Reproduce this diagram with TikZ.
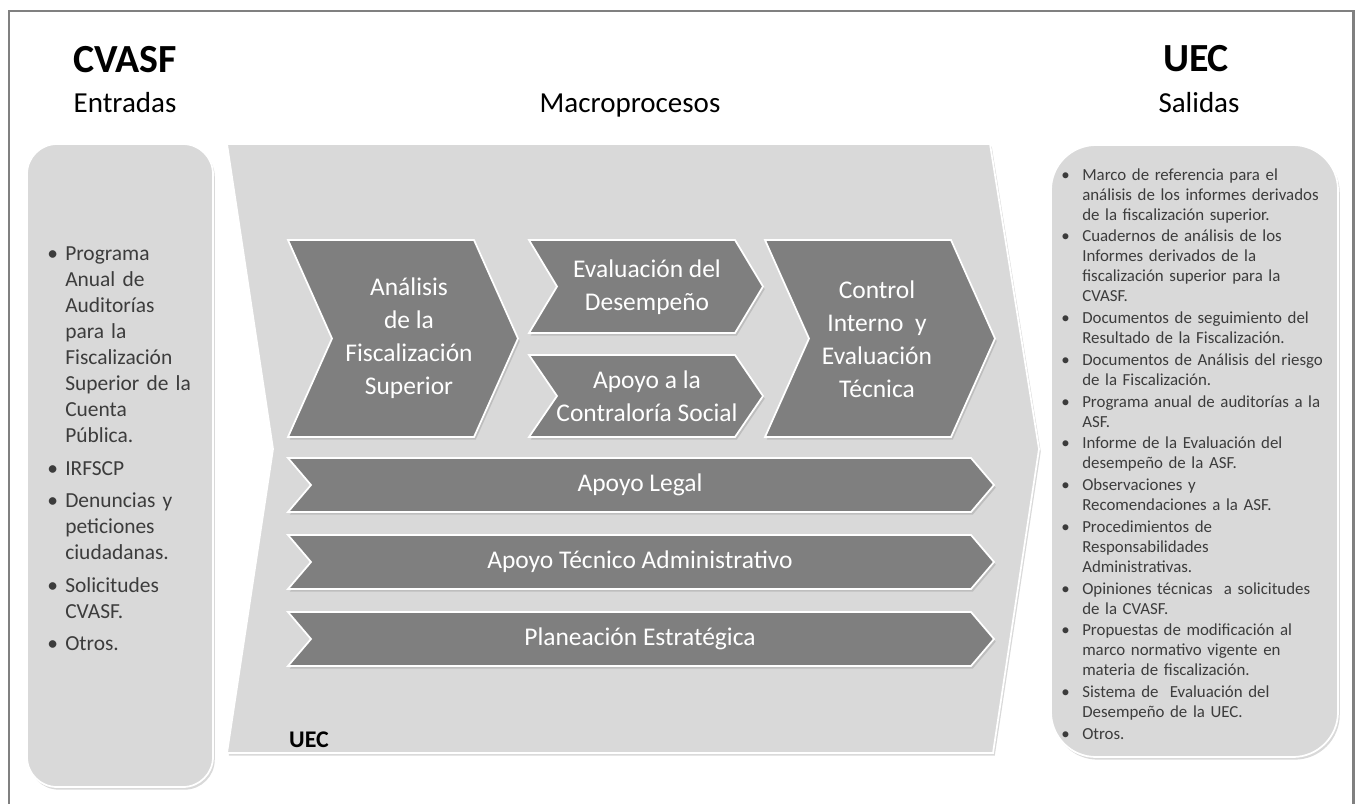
\documentclass[tikz,border=0pt]{standalone}
\usepackage{fontspec}
\setmainfont{Carlito}
\usepackage{tikz}
\usetikzlibrary{shadows}
\tikzstyle{diagram} = [x = 0.02cm, y = -0.02cm]
\definecolor{boxGray}{RGB}{217,217,217}
\definecolor{chevronGray}{RGB}{127,127,127}
\definecolor{frameGray}{RGB}{128,128,128}
\definecolor{listGray}{RGB}{60,60,60}
\newcommand{\headFont}{\fontsize{22.7}{27}\selectfont\bfseries}
\newcommand{\subFont}{\fontsize{16.5}{20}\selectfont}
\newcommand{\chevronFont}{\fontsize{14.5}{18.7}\selectfont}
\newcommand{\inputFont}{\fontsize{12.2}{14.8}\selectfont}
\newcommand{\outputFont}{\fontsize{9.6}{11.34}\selectfont}
\tikzstyle{frameLine} = [draw=frameGray, line width=1.7pt]
\tikzstyle{panelStyle} = [fill=boxGray, draw=white, line width=1pt, drop shadow={shadow xshift=1pt, shadow yshift=-1.5pt, opacity=.3}]
\tikzstyle{chevronStyle} = [fill=chevronGray, draw=white, line width=1pt, drop shadow={shadow xshift=1pt, shadow yshift=-1.5pt, opacity=.3}]
\tikzstyle{chevronText} = [text=white, align=center, font=\chevronFont]
\tikzstyle{headText} = [anchor=base, font=\headFont]
\tikzstyle{subText} = [anchor=base, font=\subFont]
\tikzstyle{listText} = [anchor=north west, inner sep=0pt, text=listGray]
\newcommand{\chevron}[5]{\filldraw [chevronStyle] (#1,#2) -- (#3,#2) -- (#3 + #5,{(#2 + #4)/2}) -- (#3,#4) -- (#1,#4) -- (#1 + #5,{(#2 + #4)/2}) -- cycle;}
\newcommand{\longChevron}[3]{
  \chevron{288}{#1}{971}{#1 + 54}{23}
  \node [chevronText] (#2) at (640,#1 + 27) {#3};
}
\newcommand{\nextLine}{\hfil\break}
\newcommand{\bulletItem}[2]{\par\noindent\hangindent=#1\hangafter=1\makebox[#1][l]{\textbullet}#2}

\begin{document}
\begin{tikzpicture}[diagram]
      \useasboundingbox (0,0) rectangle (1359,804);
      \draw [frameLine] (9,804) -- (9,11) -- (1353,11) -- (1353,804);

      \node [headText] (inputOwner) at (125,73) {CVASF};
      \node [subText] (inputHead) at (125,113) {Entradas};
      \node [subText] (processHead) at (630,113) {Macroprocesos};
      \node [headText] (outputOwner) at (1196,72) {UEC};
      \node [subText] (outputHead) at (1199,113) {Salidas};

      \filldraw [panelStyle, rounded corners=0.6cm] (27,144) rectangle (213,787);
      \filldraw [panelStyle] (227,144) -- (990,144) -- (1039,449) -- (993,753) -- (227,753) -- (273,449) -- cycle;
      \filldraw [panelStyle, rounded corners=0.9cm] (1051,145) rectangle (1338,757);

      \chevron{288}{240}{474}{437}{44}
      \node [chevronText] (auditAnalysis) at (409,338) {Análisis\\de la\\Fiscalización\\Superior};
      \chevron{529}{240}{735}{333}{28}
      \node [chevronText] (performance) at (647,287) {Evaluación del\\Desempeño};
      \chevron{529}{355}{735}{437}{28}
      \node [chevronText] (socialControl) at (647,396) {Apoyo a la\\Contraloría Social};
      \chevron{765}{240}{951}{437}{44}
      \node [chevronText] (internalControl) at (877,339) {Control\\Interno~ y\\Evaluación\\Técnica};

      \foreach \rowTop/\rowName/\rowLabel in {458/legalSupport/Apoyo Legal, 535/adminSupport/Apoyo Técnico Administrativo, 612/planning/Planeación Estratégica} {
        \longChevron{\rowTop}{\rowName}{\rowLabel}
      }
      \node [anchor=base, font=\fontsize{13.6}{16}\selectfont\bfseries] (processOwner) at (309,747) {UEC};

      \node [listText, text width=4.2cm, font=\inputFont] (inputList) at (47,228) {\raggedright\setlength{\parskip}{3.7pt}%
        \bulletItem{10.2pt}{Programa\nextLine Anual de\nextLine Auditorías\nextLine para la\nextLine Fiscalización\nextLine Superior de la\nextLine Cuenta\nextLine Pública.}
        \bulletItem{10.2pt}{IRFSCP}
        \bulletItem{10.2pt}{Denuncias y\nextLine peticiones\nextLine ciudadanas.}
        \bulletItem{10.2pt}{Solicitudes\nextLine CVASF.}
        \bulletItem{10.2pt}{Otros.}};

      \node [listText, text width=5.6cm, font=\outputFont] (outputList) at (1061,158) {\raggedright\setlength{\parskip}{1.1pt}%
        \bulletItem{11.9pt}{Marco de referencia para el\nextLine análisis de los informes derivados\nextLine de la fiscalización superior.}
        \bulletItem{11.9pt}{Cuadernos de análisis de los\nextLine Informes derivados de la\nextLine fiscalización superior para la\nextLine CVASF.}
        \bulletItem{11.9pt}{Documentos de seguimiento del\nextLine Resultado de la Fiscalización.}
        \bulletItem{11.9pt}{Documentos de Análisis del riesgo\nextLine de la Fiscalización.}
        \bulletItem{11.9pt}{Programa anual de auditorías a la\nextLine ASF.}
        \bulletItem{11.9pt}{Informe de la Evaluación del\nextLine desempeño de la ASF.}
        \bulletItem{11.9pt}{Observaciones y\nextLine Recomendaciones a la ASF.}
        \bulletItem{11.9pt}{Procedimientos de\nextLine Responsabilidades\nextLine Administrativas.}
        \bulletItem{11.9pt}{Opiniones técnicas~ a solicitudes\nextLine de la CVASF.}
        \bulletItem{11.9pt}{Propuestas de modificación al\nextLine marco normativo vigente en\nextLine materia de fiscalización.}
        \bulletItem{11.9pt}{Sistema de~ Evaluación del\nextLine Desempeño de la UEC.}
        \bulletItem{11.9pt}{Otros.}};
    \end{tikzpicture}
\end{document}
